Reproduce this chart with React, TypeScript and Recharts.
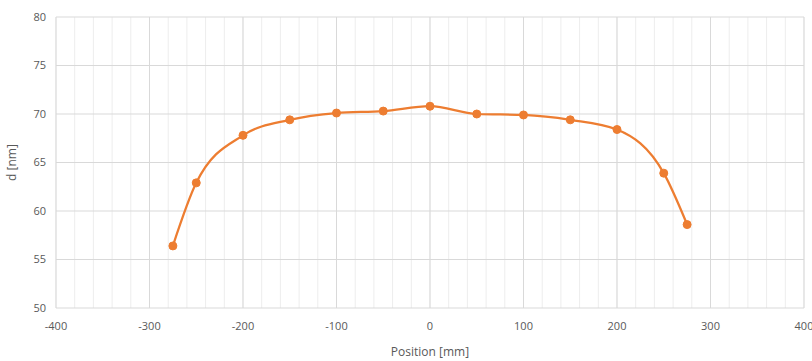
import React from 'react';
import {
  LineChart,
  Line,
  XAxis,
  YAxis,
  CartesianGrid,
  Label,
} from 'recharts';

const positions = [-275, -250, -200, -150, -100, -50, 0, 50, 100, 150, 200, 250, 275];
const thickness = [56.4, 62.9, 67.8, 69.4, 70.1, 70.3, 70.8, 70.0, 69.9, 69.4, 68.4, 63.9, 58.6];

const xTicks = [-400, -300, -200, -100, 0, 100, 200, 300, 400];
const xMinorTicks = [
  -400, -380, -360, -340, -320, -300, -280, -260, -240, -220, -200, -180, -160, -140, -120,
  -100, -80, -60, -40, -20, 0, 20, 40, 60, 80, 100, 120, 140, 160, 180, 200, 220, 240, 260,
  280, 300, 320, 340, 360, 380, 400,
];
const yTicks = [50, 55, 60, 65, 70, 75, 80];

const data = positions.map((p, i) => ({ x: p, d: thickness[i] }));

const tickStyle = { fill: '#595959', fontSize: 11, fontFamily: 'Open Sans, sans-serif' };

const App: React.FC = () => {
  return (
    <div style={{ position: 'absolute', left: 0, top: 0, width: 812, height: 361, background: '#fff' }}>
      <LineChart width={812} height={361} data={data} margin={{ top: 17, right: 8, bottom: 23, left: 16 }}>
        {/* minor vertical lines every 20 */}
        <CartesianGrid xAxisId="minor" stroke="#ededed" horizontal={false} />
        <CartesianGrid stroke="#d9d9d9" />
        <XAxis
          xAxisId="minor"
          type="number"
          dataKey="x"
          domain={[-400, 400]}
          ticks={xMinorTicks}
          interval={0}
          hide
        />
        <XAxis
          type="number"
          dataKey="x"
          domain={[-400, 400]}
          ticks={xTicks}
          interval={0}
          axisLine={false}
          tickLine={false}
          tickMargin={8}
          height={30}
          tick={tickStyle}
        >
          <Label
            value="Position [mm]"
            position="insideBottom"
            offset={-18}
            style={{ fill: '#595959', fontSize: 12, fontFamily: 'Open Sans, sans-serif' }}
          />
        </XAxis>
        <YAxis
          domain={[50, 80]}
          ticks={yTicks}
          interval={0}
          axisLine={false}
          tickLine={false}
          tickMargin={4}
          width={40}
          tick={tickStyle}
        >
          <Label
            value="d [nm]"
            angle={-90}
            position="insideLeft"
            offset={-4}
            style={{ fill: '#595959', fontSize: 12, fontFamily: 'Open Sans, sans-serif', textAnchor: 'middle' }}
          />
        </YAxis>
        <Line
          type="monotone"
          dataKey="d"
          stroke="#ED7D31"
          strokeWidth={2.25}
          dot={{ r: 4, fill: '#ED7D31', stroke: '#ED7D31', strokeWidth: 1 }}
          activeDot={false}
          isAnimationActive={false}
        />
      </LineChart>
    </div>
  );
};

export default App;
